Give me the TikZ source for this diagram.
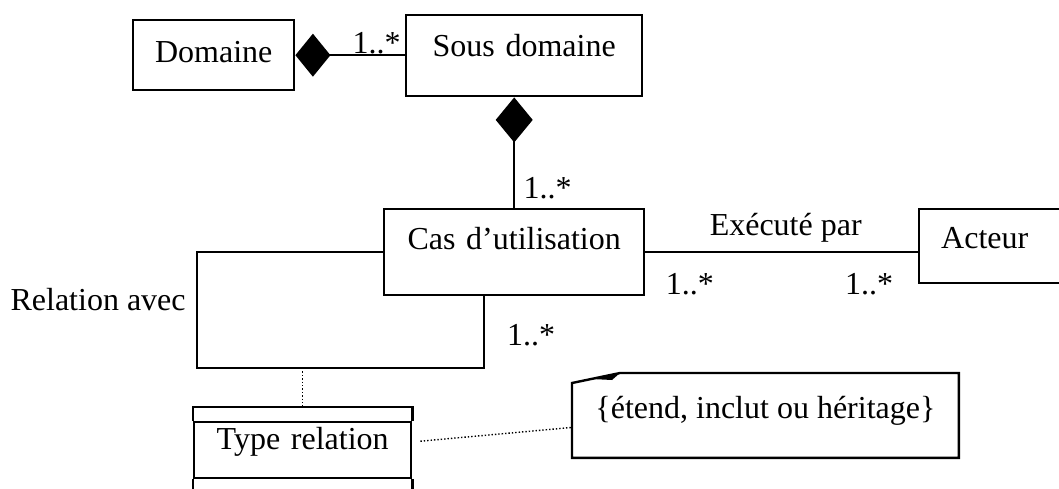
\documentclass[tikz,border=0pt]{standalone}
\usepackage{fontspec}
\setmainfont{Liberation Serif}
\usetikzlibrary{calc,arrows.meta}

\begin{document}
\begin{tikzpicture}[x=0.5pt,y=-0.5pt,font=\fontsize{16}{19}\selectfont,
    cls/.style={draw,line width=1.2pt,inner sep=0pt,align=center,anchor=north west},
    mult/.style={inner sep=0pt,anchor=base},
    lnk/.style={line width=1pt},
    dots/.style={densely dotted,line width=0.7pt}]

    \path[use as bounding box] (0,0) rectangle (1059,488);
    \clip (0,0) rectangle (1059,488);

    %%% Domaines %%%

    \node[cls,text width=80.5pt,text height=21pt,text depth=14pt] (dom) at (132,19) {Domaine};
    \node[cls,text width=118pt,text height=20.5pt,text depth=20pt] (sdom) at (405,14) {Sous domaine};

    \draw[lnk,{Diamond[length=17.5pt,width=21.5pt]}-] (dom.east) -- (dom.east -| sdom.west);
    \node[mult] (m1) at ($(sdom.west)+(-28.5,-2.5)$) {1..*};

    %%% Cas d'utilisation %%%

    \node[cls,text width=130pt,text height=20pt,text depth=23pt] (cas) at (383,208) {Cas d'utilisation};
    \node[cls,align=left,inner xsep=11pt,text width=53pt,text height=19.5pt,text depth=17.5pt] (act) at (918,208) {Acteur};

    \draw[lnk,-{Diamond[length=22.5pt,width=18.5pt]}] (cas.north) -- (cas.north |- sdom.south);
    \node[mult] (m2) at ($(cas.north)+(33.5,-10)$) {1..*};

    \draw[lnk] (cas.east) -- node[midway,above=4.5pt,inner sep=0pt,xshift=2pt] (exe) {Exécuté par} (cas.east -| act.west);
    \node[mult] (m3) at ($(cas.east)+(44.5,42)$) {1..*};
    \node[mult] (m4) at ($(act.west)+(-49,48)$) {1..*};

    %%% Relation avec %%%

    \coordinate (rl) at (197,368);
    \coordinate (rr) at (484,368);
    \draw[lnk] (cas.west) -| (rl) -- (rr) -- (rr |- cas.south);
    \node[inner sep=0pt,anchor=base east] (rel) at ($(rl)+(-11,-58)$) {Relation avec};
    \node[mult] (m5) at ($(cas.south)+(17,49)$) {1..*};

    \node[cls,text width=108.5pt,text height=13.5pt,text depth=14.5pt] (typ) at (193,421) {Type relation};
    \draw[line width=1.2pt] (typ.north west) -- ++(0,-14) -| (typ.north east)
        (typ.south west) -- ++(0,20) (typ.south east) -- ++(0,20);
    \draw[dots] (rl -| typ.north) -- ($(typ.north)+(0,-14)$);

    %%% Note %%%

    \node[inner sep=0pt,anchor=north west,minimum width=193pt,
        text height=22.5pt,text depth=19.5pt] (note) at (572,373) {\{étend, inclut ou héritage\}};
    \draw[line width=1.2pt] (note.south west) -- ($(note.north west)+(0,10)$) -- ($(note.north west)+(48,0)$)
        -- (note.north east) -- (note.south east) -- cycle;
    \fill ($(note.north west)+(20,6)$) -- ($(note.north west)+(48,0)$) -- ($(note.north west)+(40,7)$) -- cycle;
    \draw[dots] ($(typ.east)+(8,-9)$) -- ($(note.west)+(0,12)$);

\end{tikzpicture}
\end{document}
